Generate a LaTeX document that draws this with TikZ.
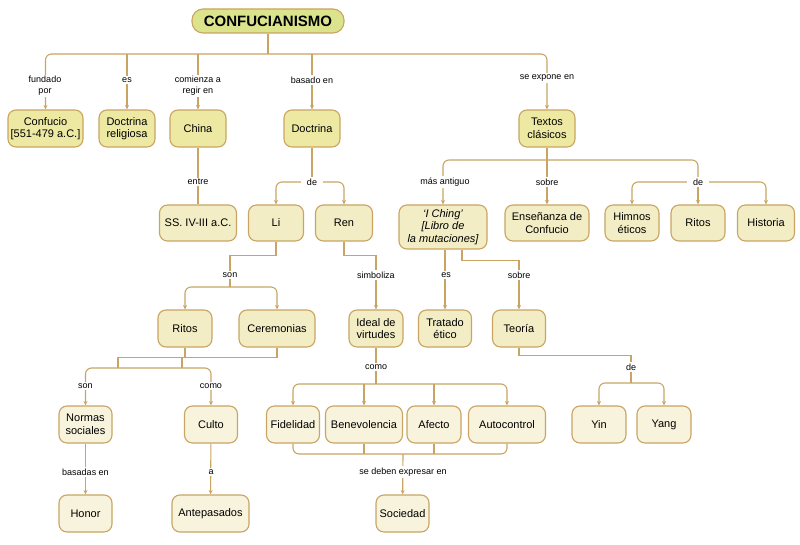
\documentclass[tikz,border=0pt]{standalone}
\usepackage{fontspec}
\setmainfont{Liberation Sans}
\usepackage{tikz}
\usetikzlibrary{arrows.meta}
\definecolor{linkbrown}{RGB}{201,164,99}
\definecolor{rootfill}{RGB}{219,227,140}
\definecolor{onefill}{RGB}{237,233,163}
\definecolor{twofill}{RGB}{242,237,196}
\definecolor{threefill}{RGB}{248,243,220}

\begin{document}
\begin{tikzpicture}[x=1pt, y=-1pt,
      link/.style={draw=linkbrown, line width=1.1pt, rounded corners=6pt},
      elbow/.style={link, sharp corners},
      arrow/.style={link, -{Stealth[length=4.5pt, width=4pt]}},
      box/.style={draw=linkbrown, line width=1.1pt, rounded corners=8pt, align=center,
        inner sep=1pt, minimum height=37pt, font=\fontsize{11}{12.5}\selectfont},
      rootbox/.style={box, fill=rootfill, minimum width=152pt, minimum height=24pt,
        rounded corners=11pt, font=\fontsize{15}{17}\selectfont\bfseries},
      boxone/.style={box, fill=onefill},
      boxtwo/.style={box, fill=twofill},
      boxthree/.style={box, fill=threefill},
      lbl/.style={fill=white, inner sep=1.5pt, align=center, font=\fontsize{9}{11}\selectfont}]
      \useasboundingbox (0,0) rectangle (800,545);

      \node[rootbox] (root) at (268,21) {CONFUCIANISMO};

      \node[boxone, minimum width=75pt] (confucio) at (45.5,128.5) {Confucio\\{}[551-479 a.C.]};
      \node[boxone, minimum width=56pt] (doctrel) at (127,128.5) {Doctrina\\religiosa};
      \node[boxone, minimum width=56pt] (china) at (198,128.5) {China};
      \node[boxone, minimum width=56pt] (doctrina) at (312,128.5) {Doctrina};
      \node[boxone, minimum width=56pt] (textos) at (547,128.5) {Textos\\clásicos};

      \node[boxtwo, minimum width=77pt, minimum height=36pt] (siglos) at (198,223) {SS. IV-III a.C.};
      \node[boxtwo, minimum width=55pt, minimum height=36pt] (li) at (276,223) {Li};
      \node[boxtwo, minimum width=57pt, minimum height=36pt] (ren) at (344,223) {Ren};
      \node[boxtwo, minimum width=88pt, minimum height=44pt, font=\fontsize{11}{12.5}\selectfont\itshape]
        (iching) at (443,227) {‘I Ching’\\{}[Libro de\\la mutaciones]};
      \node[boxtwo, minimum width=84pt, minimum height=36pt] (ensenanza) at (547,223) {Enseñanza de\\Confucio};
      \node[boxtwo, minimum width=54pt, minimum height=36pt] (himnos) at (632,223) {Himnos\\éticos};
      \node[boxtwo, minimum width=54pt, minimum height=36pt] (ritostx) at (698,223) {Ritos};
      \node[boxtwo, minimum width=57pt, minimum height=36pt] (historia) at (766,223) {Historia};

      \node[boxtwo, minimum width=54pt] (ritos) at (185,328.5) {Ritos};
      \node[boxtwo, minimum width=76pt] (ceremonias) at (277,328.5) {Ceremonias};
      \node[boxtwo, minimum width=54pt] (ideal) at (376,328.5) {Ideal de\\virtudes};
      \node[boxtwo, minimum width=53pt] (tratado) at (445,328.5) {Tratado\\ético};
      \node[boxtwo, minimum width=53pt] (teoria) at (519,328.5) {Teoría};

      \node[boxthree, minimum width=53pt] (normas) at (85.5,424.5) {Normas\\sociales};
      \node[boxthree, minimum width=53pt] (culto) at (211,424.5) {Culto};
      \node[boxthree, minimum width=53pt] (fidelidad) at (293,424.5) {Fidelidad};
      \node[boxthree, minimum width=77pt] (benevolencia) at (364,424.5) {Benevolencia};
      \node[boxthree, minimum width=54pt] (afecto) at (434,424.5) {Afecto};
      \node[boxthree, minimum width=77pt] (autocontrol) at (507,424.5) {Autocontrol};
      \node[boxthree, minimum width=54pt] (yin) at (599,424.5) {Yin};
      \node[boxthree, minimum width=54pt] (yang) at (664,424.5) {Yang};

      \node[boxthree, minimum width=53pt] (honor) at (85.5,513.5) {Honor};
      \node[boxthree, minimum width=77pt] (antepasados) at (210.5,513.5) {Antepasados};
      \node[boxthree, minimum width=53pt] (sociedad) at (402.5,513.5) {Sociedad};

      \coordinate (topbus) at (268,54);
      \coordinate (debus) at (312,182);
      \coordinate (libus) at (230,287);
      \coordinate (rcbus) at (150,368);
      \coordinate (virtbus) at (376,384);
      \coordinate (socbus) at (403,454);
      \coordinate (textbus) at (547,160);
      \coordinate (himbus) at (698,182);
      \coordinate (yinbus) at (631,383);

      \draw[link] (root) -- (topbus);
      \draw[arrow] (topbus) -| (confucio);
      \draw[arrow] (topbus -| doctrel) -- (doctrel);
      \draw[arrow] (topbus -| china) -- (china);
      \draw[arrow] (topbus -| doctrina) -- (doctrina);
      \draw[arrow] (topbus) -| (textos);

      \draw[link] (china) -- (siglos);
      \draw[link] (doctrina) -- (debus);
      \draw[arrow] (debus) -| (li);
      \draw[arrow] (debus) -| (ren);

      \draw[elbow] (li.south) -- ++(0,14) -| (libus);
      \draw[arrow] (libus) -| (ritos);
      \draw[arrow] (libus) -| (ceremonias);
      \draw[arrow, elbow] (ren.south) -- ++(0,14) -| (ideal);

      \draw[elbow] (ritos.south) -- ++(0,10) -| (118,368);
      \draw[elbow] (ceremonias.south) -- ++(0,10) -| (182,368);
      \draw[arrow] (rcbus) -| (normas);
      \draw[arrow] (rcbus) -| (culto);
      \draw[arrow] (normas) -- (honor);
      \draw[arrow] (culto) -- (antepasados);

      \draw[link] (ideal) -- (virtbus);
      \draw[arrow] (virtbus) -| (fidelidad);
      \draw[arrow] (virtbus -| benevolencia) -- (benevolencia);
      \draw[arrow] (virtbus -| afecto) -- (afecto);
      \draw[arrow] (virtbus) -| (autocontrol);
      \draw[link] (fidelidad) |- (socbus);
      \draw[link] (autocontrol) |- (socbus);
      \draw[link] (benevolencia) -- (benevolencia |- socbus);
      \draw[link] (afecto) -- (afecto |- socbus);
      \draw[arrow] (socbus) -- (sociedad);

      \draw[link] (textos) -- (textbus);
      \draw[arrow] (textbus) -| (iching);
      \draw[arrow] (textbus) -- (ensenanza);
      \draw[link] (textbus) -| (himbus);
      \draw[arrow] (himbus) -| (himnos);
      \draw[arrow] (himbus) -- (ritostx);
      \draw[arrow] (himbus) -| (historia);

      \draw[arrow] (tratado |- iching.south) -- (tratado);
      \draw[arrow, elbow] ([xshift=19pt]iching.south) -- ++(0,11) -| (teoria);
      \draw[elbow] (teoria.south) -- ++(0,8) -| (yinbus);
      \draw[arrow] (yinbus) -| (yin);
      \draw[arrow] (yinbus) -| (yang);

      \node[lbl] (lfundado) at (45,86) {fundado\\por};
      \node[lbl] (les) at (127,80) {es};
      \node[lbl] (lcomienza) at (198,86) {comienza a\\regir en};
      \node[lbl] (lbasado) at (312,80) {basado en};
      \node[lbl] (lexpone) at (547,78) {se expone en};
      \node[lbl] (lentre) at (198,182) {entre};
      \node[lbl, inner xsep=6pt] (lde) at (312,182) {de};
      \node[lbl] (lantiguo) at (445,182) {más antiguo};
      \node[lbl] (lsobre) at (547,182) {sobre};
      \node[lbl, inner xsep=6pt] (ldetx) at (698,182) {de};
      \node[lbl] (lson) at (230,275) {son};
      \node[lbl] (lsimb) at (376,275) {simboliza};
      \node[lbl] (les2) at (446,275) {es};
      \node[lbl] (lsobre2) at (519,275) {sobre};
      \node[lbl] (lson2) at (85.5,386) {son};
      \node[lbl] (lcomo) at (211,386) {como};
      \node[lbl] (lcomo2) at (376,367) {como};
      \node[lbl] (lde3) at (631,367) {de};
      \node[lbl] (lbasadas) at (85.5,472) {basadas en};
      \node[lbl] (la) at (211,472) {a};
      \node[lbl] (lexpresar) at (403,472) {se deben expresar en};
    \end{tikzpicture}
\end{document}
